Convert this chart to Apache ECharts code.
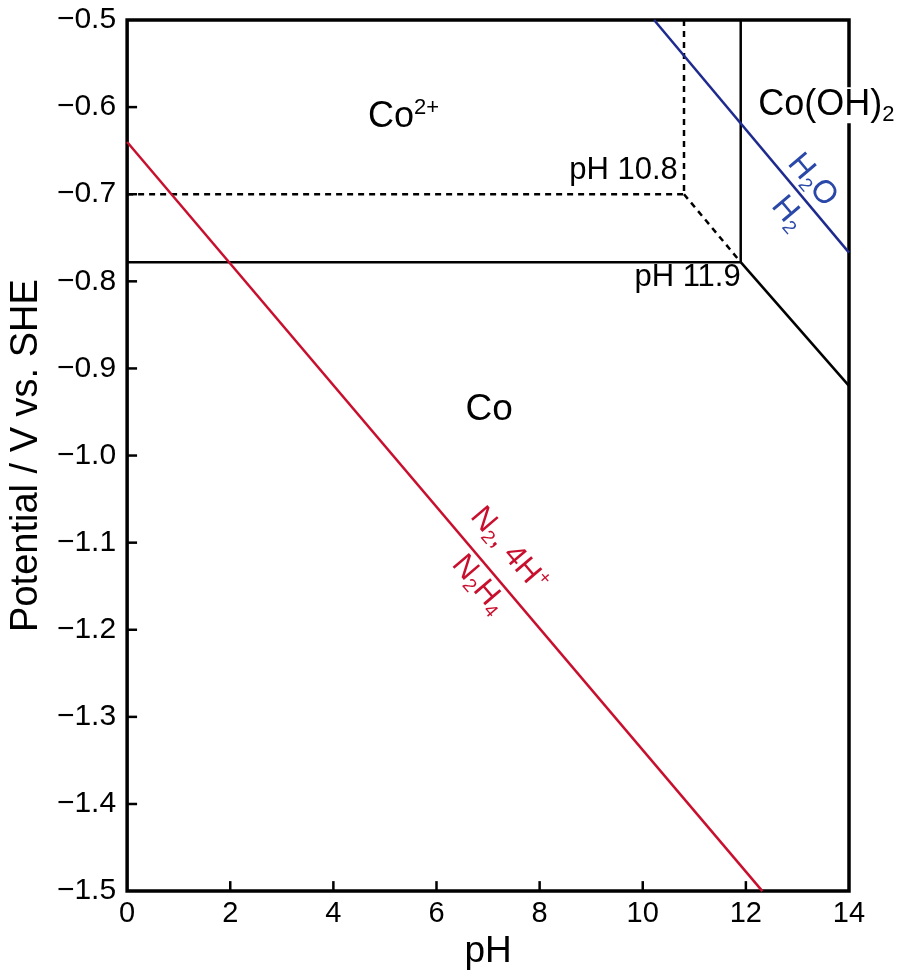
<!DOCTYPE html>
<html><head><meta charset="utf-8">
<script src="https://cdn.jsdelivr.net/npm/echarts@6/dist/echarts.min.js"></script>
<style>html,body{margin:0;padding:0;background:#fff}#c{width:911px;height:975px}</style>
</head><body><div id="c"></div>
<script>
// ---- data ----
const xTicks = [0, 2, 4, 6, 8, 10, 12, 14];
const yTicks = [-0.5, -0.6, -0.7, -0.8, -0.9, -1.0, -1.1, -1.2, -1.3, -1.4, -1.5];
const dashedHoriz = [[0, -0.70], [10.8, -0.70]];
const dashedVert = [[10.8, -0.5], [10.8, -0.70]];
const dashedDiag = [[10.8, -0.70], [11.9, -0.778]];
const solidHoriz = [[0, -0.778], [11.9, -0.778]];
const solidVert = [[11.9, -0.5], [11.9, -0.778]];
const solidDiag = [[11.9, -0.778], [14, -0.92]];
const waterLine = [[10.22, -0.5], [14, -0.767]];
const hydrazineLine = [[0, -0.64], [12.32, -1.5]];
// region / annotation labels: [pH, E, text]
const regionLabelsLeft = [
  [4.67, -0.612, '{b|Co}{sup|2+}'],
  [12.24, -0.598, '{b|Co(OH)}{sub|2}']
];
const regionLabelsCenter = [
  [7.02, -0.947, '{b|Co}']
];
const phLabels = [
  [10.68, -0.673, 'pH 10.8'],
  [11.9, -0.796, 'pH 11.9']
];
const waterLabels = [
  [13.29, -0.684, '{b|H}{sub|2}{b|O}'],
  [12.82, -0.722, '{b|H}{sub|2}']
];
const hydrazineLabels = [
  [7.40, -1.108, '{b|N}{sub|2}{b|, 4H}{sup|+}'],
  [6.82, -1.148, '{b|N}{sub|2}{b|H}{sub|4}']
];

const FONT = 'Liberation Sans, Arial, sans-serif';
const RED = '#c8102e', NAVY = '#1e2a8e', BLUE = '#2a48a8';
const X_MIN = 0, X_MAX = 14, Y_MIN = -1.5, Y_MAX = -0.5;
const GRID = { left: 123, right: 62, top: 20, bottom: 82 };
const PLOT_W = 911 - GRID.left - GRID.right;
const PLOT_H = 975 - GRID.top - GRID.bottom;
const TICK_PX = 10;
const tickLenX = TICK_PX / PLOT_W * (X_MAX - X_MIN);  // horizontal tick length in pH units
const tickLenY = TICK_PX / PLOT_H * (Y_MAX - Y_MIN);  // vertical tick length in volts
const minusFmt = v => (v < 0 ? '\u2212' : '') + Math.abs(v).toFixed(1);

function lineSeries(data, color, type, width) {
  return { type: 'line', data, symbol: 'none', silent: true, animation: false,
    lineStyle: { color, type, width, opacity: 1 }, z: 3 };
}
function tickSeries(data) {
  return { type: 'line', data, symbol: 'none', silent: true, animation: false, clip: false,
    lineStyle: { color: '#000', width: 2.5, opacity: 1 }, z: 4 };
}
function richFor(size, color, bg) {
  const lh = Math.round(size * 1.15);
  const small = Math.round(size * 0.6);
  const base = { color, fontFamily: FONT, lineHeight: lh };
  if (bg) base.backgroundColor = bg;
  return {
    b: Object.assign({ fontSize: size, verticalAlign: 'middle' }, base),
    sub: Object.assign({ fontSize: small, verticalAlign: 'bottom' }, base),
    sup: Object.assign({ fontSize: small, verticalAlign: 'top' }, base)
  };
}
function labelSeries(data, size, color, rotate, align, bg) {
  return { type: 'scatter', data, symbolSize: 0, silent: true, animation: false, z: 10,
    itemStyle: { opacity: 1 },
    label: { show: true, position: 'inside', formatter: p => p.data[2], rotate: rotate || 0,
      align: align || 'center', verticalAlign: 'middle', opacity: 1,
      fontSize: size, color, fontFamily: FONT, rich: richFor(size, color, bg) } };
}

// inward tick marks along the bottom and left edges, placed at the tick values
const xTickSeries = xTicks.filter(t => t > X_MIN && t < X_MAX)
  .map(t => tickSeries([[t, Y_MIN], [t, Y_MIN + tickLenY]]));
const yTickSeries = yTicks.filter(t => t > Y_MIN + 1e-9 && t < Y_MAX - 1e-9)
  .map(t => tickSeries([[X_MIN, t], [X_MIN + tickLenX, t]]));

const chart = echarts.init(document.getElementById('c'), null, { renderer: 'canvas' });
chart.setOption({
  backgroundColor: '#fff',
  animation: false,
  grid: Object.assign({ show: true, borderColor: '#000', borderWidth: 3.5, backgroundColor: 'transparent' }, GRID),
  xAxis: {
    type: 'value', min: X_MIN, max: X_MAX, interval: 2, position: 'bottom',
    name: 'pH', nameLocation: 'middle', nameGap: 40,
    nameTextStyle: { fontSize: 37, color: '#000', fontFamily: FONT },
    axisLine: { show: false, onZero: false },
    axisTick: { show: false },
    axisLabel: { show: true, fontSize: 29, color: '#000', fontFamily: FONT, margin: 8,
      formatter: v => xTicks.includes(v) ? String(v) : '' },
    splitLine: { show: false }
  },
  yAxis: {
    type: 'value', min: Y_MIN, max: Y_MAX, interval: 0.1, position: 'left',
    name: 'Potential / V vs. SHE', nameLocation: 'middle', nameGap: 75,
    nameTextStyle: { fontSize: 38, color: '#000', fontFamily: FONT },
    axisLine: { show: false, onZero: false },
    axisTick: { show: false },
    axisLabel: { show: true, fontSize: 30, color: '#000', fontFamily: FONT, margin: 11,
      formatter: v => {
        const r = Math.round(v * 10) / 10;
        return yTicks.some(t => Math.abs(t - r) < 1e-9) ? minusFmt(r) : '';
      } },
    splitLine: { show: false }
  },
  series: [
    lineSeries(dashedHoriz, '#000', [6, 5], 2.5),
    lineSeries(dashedVert, '#000', [6, 5], 2.5),
    lineSeries(dashedDiag, '#000', [6, 5], 2.5),
    lineSeries(solidHoriz, '#000', 'solid', 2.5),
    lineSeries(solidVert, '#000', 'solid', 2.5),
    lineSeries(solidDiag, '#000', 'solid', 2.5),
    lineSeries(waterLine, NAVY, 'solid', 2.5),
    lineSeries(hydrazineLine, RED, 'solid', 2.5),
    ...xTickSeries,
    ...yTickSeries,
    labelSeries(regionLabelsLeft, 36, '#000', 0, 'left', '#fff'),
    labelSeries(regionLabelsCenter, 37, '#000'),
    labelSeries(phLabels, 31, '#000', 0, 'right'),
    labelSeries(waterLabels, 32, BLUE, -49.7),
    labelSeries(hydrazineLabels, 31, RED, -49.7)
  ]
});
</script></body></html>
